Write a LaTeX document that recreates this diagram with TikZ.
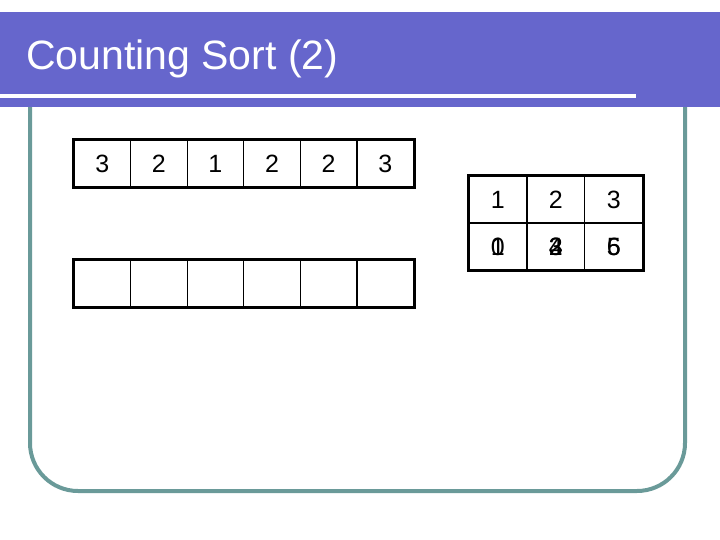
\documentclass[tikz,border=0pt]{standalone}
\usepackage{fontspec}
\setmainfont{Liberation Sans}
\usetikzlibrary{matrix}
\definecolor{titlebar}{HTML}{6666CC}
\definecolor{frameline}{HTML}{6A9A99}
\newcommand{\stack}[1]{\makebox[0pt]{#1}}
\tikzset{
	cell/.style={draw, line width=1.3pt, minimum width=56.6pt, minimum height=46.7pt, inner sep=0pt, font=\fontsize{25}{30}\selectfont},
	arr/.style={matrix of nodes, nodes={cell}, draw, line width=2.6pt, inner sep=0pt, column sep=-1.3pt, row sep=-1.3pt, anchor=north west}
}

\begin{document}
\begin{tikzpicture}[x=1pt, y=-1pt]
			\useasboundingbox (0,0) rectangle (720,540);
			\draw[frameline, line width=4pt, rounded corners=48pt] (30,100) -- (30,491) -- (685,491) -- (685,100);
			\fill[titlebar] (0,12) rectangle (720,107);
			\draw[white, line width=4pt] (0,96) -- (636,96);
			\node[anchor=base west, text=white, inner sep=0pt, font=\fontsize{41}{48}\selectfont] (title) at (26,70) {Counting Sort (2)};
			% input and output arrays
			\matrix (in) [arr] at (72,138)
			{
				3 & 2 & 1 & 2 & 2 & 3 \\
			};
			\matrix (out) [arr] at (72,258)
			{
				{} & {} & {} & {} & {} & {} \\
			};
			% counts
			\matrix (cnt) [arr, nodes={minimum width=57.9pt, minimum height=46.9pt}] at (467,174)
			{
				1 & 2 & 3 \\
				\stack{1}\stack{0} & \stack{4}\stack{3}\stack{2} & \stack{6}\stack{5} \\
			};
		\end{tikzpicture}
\end{document}
